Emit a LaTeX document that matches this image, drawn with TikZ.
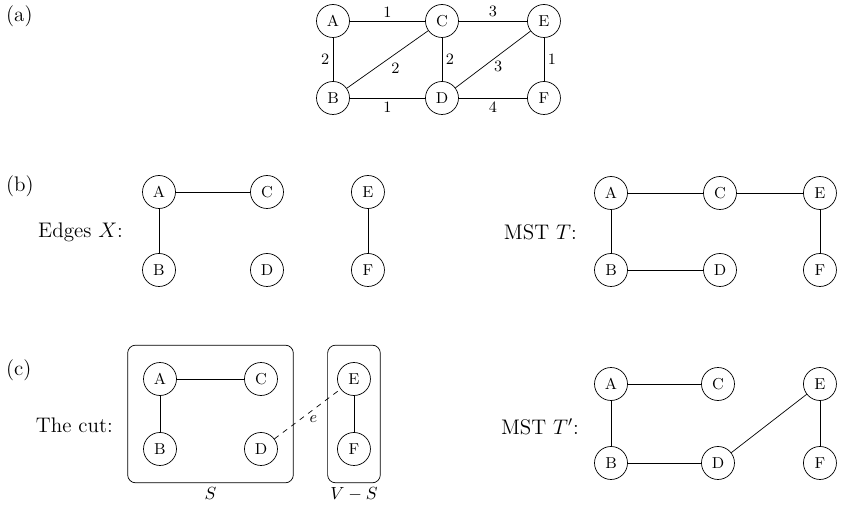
\documentclass[tikz,border=0pt]{standalone}
\usepackage{amsmath,amssymb}
\usepackage{tikz}
\usetikzlibrary{positioning}
\usetikzlibrary{fit}

\tikzset{
  vtx/.style={circle, draw, minimum size=0.66cm, inner sep=0pt, font=\small},
  wt/.style={font=\small, inner sep=2pt},
  lbl/.style={font=\large, anchor=east},
  part/.style={font=\large, anchor=west},
  cutbox/.style={draw, rounded corners=0.16cm}
}

\begin{document}
\begin{tikzpicture}[x=0.02cm, y=-0.02cm, on grid]
\useasboundingbox (0,0) rectangle (841,506);

% (a) the weighted graph
\node [part] at (0,16) {(a)};
\node (aA) [vtx] at (333,21) {A};
\node (aC) [vtx, right=2.18cm of aA] {C};
\node (aE) [vtx, right=2.04cm of aC] {E};
\node (aB) [vtx, below=1.54cm of aA] {B};
\node (aD) [vtx, below=1.54cm of aC] {D};
\node (aF) [vtx, below=1.54cm of aE] {F};

\draw (aA) -- node[wt, above] {1} (aC);
\draw (aC) -- node[wt, above] {3} (aE);
\draw (aA) -- node[wt, left] {2} (aB);
\draw (aB) -- node[wt, below right, inner sep=2pt] {2} (aC);
\draw (aC) -- node[wt, right] {2} (aD);
\draw (aD) -- node[wt, below right, inner sep=0.5pt] {3} (aE);
\draw (aE) -- node[wt, right] {1} (aF);
\draw (aB) -- node[wt, below] {1} (aD);
\draw (aD) -- node[wt, below] {4} (aF);

% (b) edges X and MST T
\node [part] at (0,186) {(b)};
\node [lbl] at (129,232) {Edges $X$:};
\node (bA) [vtx] at (159,192) {A};
\node (bC) [vtx, right=2.16cm of bA] {C};
\node (bE) [vtx, right=2.02cm of bC] {E};
\node (bB) [vtx, below=1.56cm of bA] {B};
\node (bD) [vtx, below=1.56cm of bC] {D};
\node (bF) [vtx, below=1.56cm of bE] {F};

\draw (bA) -- (bC);
\draw (bA) -- (bB);
\draw (bE) -- (bF);

\node [lbl] at (583,232) {MST $T$:};
\node (tA) [vtx] at (611,193) {A};
\node (tC) [vtx, right=2.18cm of tA] {C};
\node (tE) [vtx, right=2.0cm of tC] {E};
\node (tB) [vtx, below=1.54cm of tA] {B};
\node (tD) [vtx, below=1.54cm of tC] {D};
\node (tF) [vtx, below=1.54cm of tE] {F};

\draw (tA) -- (tC);
\draw (tC) -- (tE);
\draw (tA) -- (tB);
\draw (tB) -- (tD);
\draw (tE) -- (tF);

% (c) the cut and MST T'
\node [part] at (0,370) {(c)};
\node [lbl] at (119,425) {The cut:};
\node (cA) [vtx] at (160,379) {A};
\node (cC) [vtx, right=2.02cm of cA] {C};
\node (cE) [vtx, right=1.86cm of cC] {E};
\node (cB) [vtx, below=1.40cm of cA] {B};
\node (cD) [vtx, below=1.40cm of cC] {D};
\node (cF) [vtx, below=1.40cm of cE] {F};

\node (S) [cutbox, fit=(cA)(cD), inner xsep=0.31cm, inner ysep=0.34cm] {};
\node (VS) [cutbox, fit=(cE)(cF), inner xsep=0.19cm, inner ysep=0.34cm] {};
\node [anchor=north, inner sep=2.5pt] at (S.south) {$S$};
\node [anchor=north, inner sep=2.5pt] at (VS.south) {$V-S$};

\draw (cA) -- (cC);
\draw (cA) -- (cB);
\draw (cE) -- (cF);
\draw [dashed] (cD) -- node[below right, inner sep=1pt, font=\small] {$e$} (cE);

\node [lbl] at (585,427) {MST $T'$:};
\node (uA) [vtx] at (611,384) {A};
\node (uC) [vtx, right=2.14cm of uA] {C};
\node (uE) [vtx, right=2.04cm of uC] {E};
\node (uB) [vtx, below=1.58cm of uA] {B};
\node (uD) [vtx, below=1.58cm of uC] {D};
\node (uF) [vtx, below=1.58cm of uE] {F};

\draw (uA) -- (uC);
\draw (uA) -- (uB);
\draw (uB) -- (uD);
\draw (uD) -- (uE);
\draw (uE) -- (uF);
\end{tikzpicture}
\end{document}
